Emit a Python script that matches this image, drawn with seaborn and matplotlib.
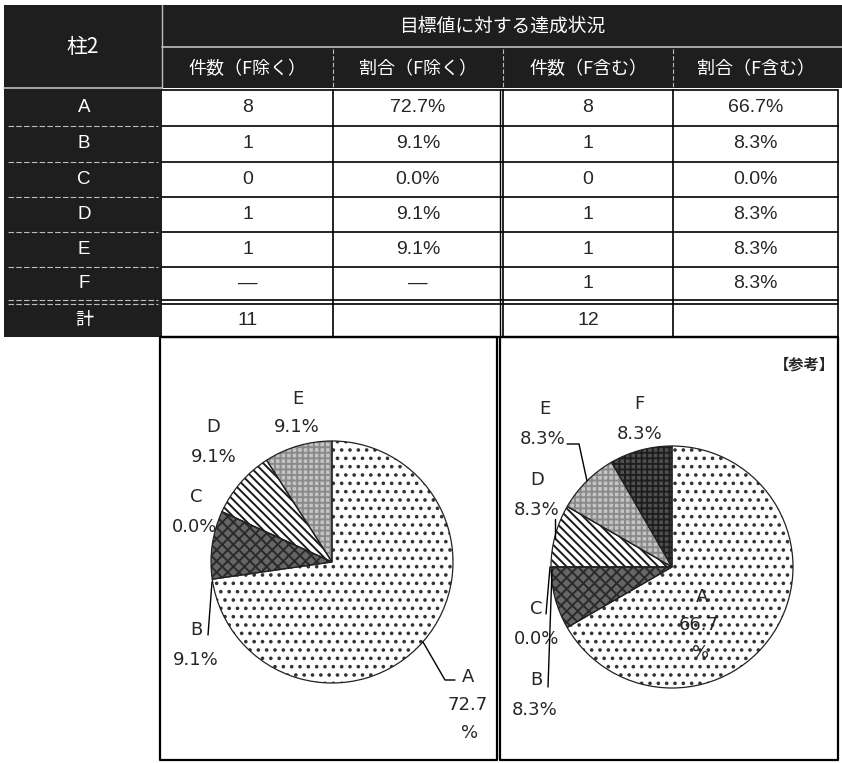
import matplotlib
matplotlib.use("Agg")
import matplotlib.pyplot as plt
import seaborn as sns
from matplotlib.patches import Rectangle

# ---------------- data ----------------
categories = ["A", "B", "C", "D", "E", "F"]
count_excl = [8, 1, 0, 1, 1]            # A-E (F excluded)
count_excl_text = ["8", "1", "0", "1", "1", "—"]
pct_excl = ["72.7%", "9.1%", "0.0%", "9.1%", "9.1%", "—"]
count_incl = [8, 1, 0, 1, 1, 1]         # A-F (F included)
pct_incl = ["66.7%", "8.3%", "0.0%", "8.3%", "8.3%", "8.3%"]
total_excl = "11"
total_incl = "12"
row_header = "柱2"
main_header = "目標値に対する達成状況"
sub_headers = ["件数（F除く）", "割合（F除く）", "件数（F含む）", "割合（F含む）"]
total_label = "計"
note_label = "【参考】"

# ---------------- style ----------------
sns.set_theme(style="white")
plt.rcParams["font.family"] = ["DejaVu Sans", "Noto Sans CJK JP"]
plt.rcParams["hatch.linewidth"] = 1.4

W, H = 842, 763
fig = plt.figure(figsize=(W / 100, H / 100), dpi=100)
fig.patch.set_facecolor("white")

base = fig.add_axes([0, 0, 1, 1])
base.set_xlim(0, W)
base.set_ylim(H, 0)
base.axis("off")

DARK = "#1e1e1e"
LIGHT = "#bdbdbd"
cols = [162, 333, 503, 673, 838]
row_top = 90
row_bounds = [90, 126, 162, 197, 232, 267, 300]
tot_top, tot_bot = 304, 337

# dark header + row header column
base.add_patch(Rectangle((4, 5), W - 4, 83, color=DARK, lw=0))
base.add_patch(Rectangle((4, 88), 158, tot_bot - 88, color=DARK, lw=0))
# light separators in dark area
base.plot([162, W], [47, 47], color=LIGHT, lw=1.2)
base.plot([162, 162], [5, 88], color=LIGHT, lw=1.0)
for x in cols[1:4]:
    base.plot([x, x], [49, 88], color=LIGHT, lw=0.8, ls=(0, (4, 2)))
base.plot([4, 162], [88, 88], color=LIGHT, lw=1.2)
for y in row_bounds[1:] + [tot_top]:
    base.plot([8, 158], [y, y], color=LIGHT, lw=0.8, ls=(0, (5, 2)))

# white cell grid
base.plot([cols[0], cols[-1]], [row_top, row_top], color="black", lw=1.2)
for y in row_bounds[1:]:
    base.plot([cols[0], cols[-1]], [y, y], color="black", lw=1.2)
base.plot([cols[0], cols[-1]], [tot_top, tot_top], color="black", lw=1.2)
base.plot([cols[0], cols[-1]], [tot_bot, tot_bot], color="black", lw=1.6)
for x in cols[1:]:
    base.plot([x, x], [row_top, tot_bot], color="black", lw=1.2)
base.plot([cols[2] - 3, cols[2] - 3], [row_top, tot_bot], color="black", lw=1.0)

# pie boxes
box_l = (160, 497)
box_r = (500, 838)
for (x0, x1) in (box_l, box_r):
    base.plot([x0, x0, x1, x1, x0], [tot_bot, 760, 760, tot_bot, tot_bot],
              color="black", lw=1.6)

# header texts
cjk = ["Noto Sans CJK JP", "DejaVu Sans"]
base.text(83, 47, row_header, color="white", fontsize=15, ha="center",
          va="center", family=cjk)
base.text(502, 26, main_header, color="white", fontsize=13.5, ha="center",
          va="center", family=cjk)
centers = [(cols[i] + cols[i + 1]) / 2 for i in range(4)]
for cx, t in zip(centers, sub_headers):
    base.text(cx, 69, t, color="white", fontsize=13, ha="center", va="center",
              family=cjk)

row_y = [(a + b) / 2 for a, b in zip(row_bounds[:-1], row_bounds[1:])] + [283.5]
row_y = row_y[:6]
num = ["Liberation Sans", "DejaVu Sans"]
for i, cat in enumerate(categories):
    y = row_y[i]
    base.text(84, y, cat, color="white", fontsize=13.5, ha="center", va="center",
              family=num)
    base.text(centers[0], y, count_excl_text[i], fontsize=14, ha="center",
              va="center", family=num)
    base.text(centers[1], y, pct_excl[i], fontsize=14, ha="center",
              va="center", family=num)
    base.text(centers[2], y, str(count_incl[i]), fontsize=14, ha="center",
              va="center", family=num)
    base.text(centers[3], y, pct_incl[i], fontsize=14, ha="center",
              va="center", family=num)
ty = (tot_top + tot_bot) / 2
base.text(84, ty, total_label, color="white", fontsize=13, ha="center",
          va="center", family=cjk)
base.text(centers[0], ty, total_excl, fontsize=14, ha="center", va="center",
          family=num)
base.text(centers[2], ty, total_incl, fontsize=14, ha="center", va="center",
          family=num)

# ---------------- pies ----------------
fills = {
    "A": dict(fc="white", hatch="..", ec="#333333"),
    "B": dict(fc="#666666", hatch="xxx", ec="#2a2a2a"),
    "C": dict(fc="#666666", hatch="xxx", ec="#2a2a2a"),
    "D": dict(fc="white", hatch="\\\\\\\\", ec="#1a1a1a"),
    "E": dict(fc="#c4c4c4", hatch="+++", ec="#8a8a8a"),
    "F": dict(fc="#505050", hatch="+++", ec="#1e1e1e"),
}


def draw_pie(cx, cy, r, values):
    half = 1.25 * r
    ax = fig.add_axes([(cx - half) / W, (H - cy - half) / H, 2 * half / W, 2 * half / H])
    ax.patch.set_alpha(0)
    wedges, _ = ax.pie(values, startangle=90, counterclock=False,
                       wedgeprops=dict(linewidth=0))
    for w, cat in zip(wedges, categories):
        f = fills[cat]
        w.set_facecolor(f["fc"])
        w.set_hatch(f["hatch"])
        w.set_edgecolor(f["ec"])
    ax.pie(values, startangle=90, counterclock=False,
           colors=["none"] * len(values),
           wedgeprops=dict(linewidth=0.9, edgecolor="#222222"))
    ax.set_xlim(-1.25, 1.25)
    ax.set_ylim(-1.25, 1.25)
    ax.set_aspect("equal")
    ax.axis("off")
    return ax


draw_pie(332, 562, 121, count_excl)
draw_pie(672, 567, 121, count_incl)

# ---------------- labels (top layer) ----------------
ann = fig.add_axes([0, 0, 1, 1])
ann.set_xlim(0, W)
ann.set_ylim(H, 0)
ann.axis("off")
ann.patch.set_alpha(0)

lab = dict(fontsize=13, ha="center", va="center", family=["DejaVu Sans"])
left_labels = [
    ("A", 468, 677), ("72.7", 468, 705), ("%", 470, 733),
    ("B", 196, 630), ("9.1%", 196, 660),
    ("C", 196, 497), ("0.0%", 195, 527),
    ("D", 213, 427), ("9.1%", 214, 457),
    ("E", 298, 399), ("9.1%", 297, 427),
]
for t, x, y in left_labels:
    ann.text(x, y, t, **lab)
ann.plot([208, 212], [635, 582], color="black", lw=1.0)
ann.plot([423, 445, 455], [642, 680, 680], color="black", lw=1.0)

right_labels = [
    ("A", 702, 597), ("66.7", 699, 625), ("%", 701, 653),
    ("B", 536, 680), ("8.3%", 535, 710),
    ("C", 536, 609), ("0.0%", 537, 639),
    ("D", 537, 480), ("8.3%", 537, 510),
    ("E", 545, 409), ("8.3%", 543, 439),
    ("F", 639, 404), ("8.3%", 640, 434),
]
for t, x, y in right_labels:
    ann.text(x, y, t, **lab)
ann.plot([567, 579, 587], [444, 444, 481], color="black", lw=1.0)
ann.plot([555, 555], [519, 539], color="black", lw=1.0)
ann.plot([546, 550], [614, 567], color="black", lw=1.0)
ann.plot([548, 552], [687, 570], color="black", lw=1.0)

ann.text(804, 365, note_label, fontsize=11, fontweight="bold", ha="center",
         va="center", family=cjk)

fig.savefig("out.png", dpi=100, facecolor="white")
